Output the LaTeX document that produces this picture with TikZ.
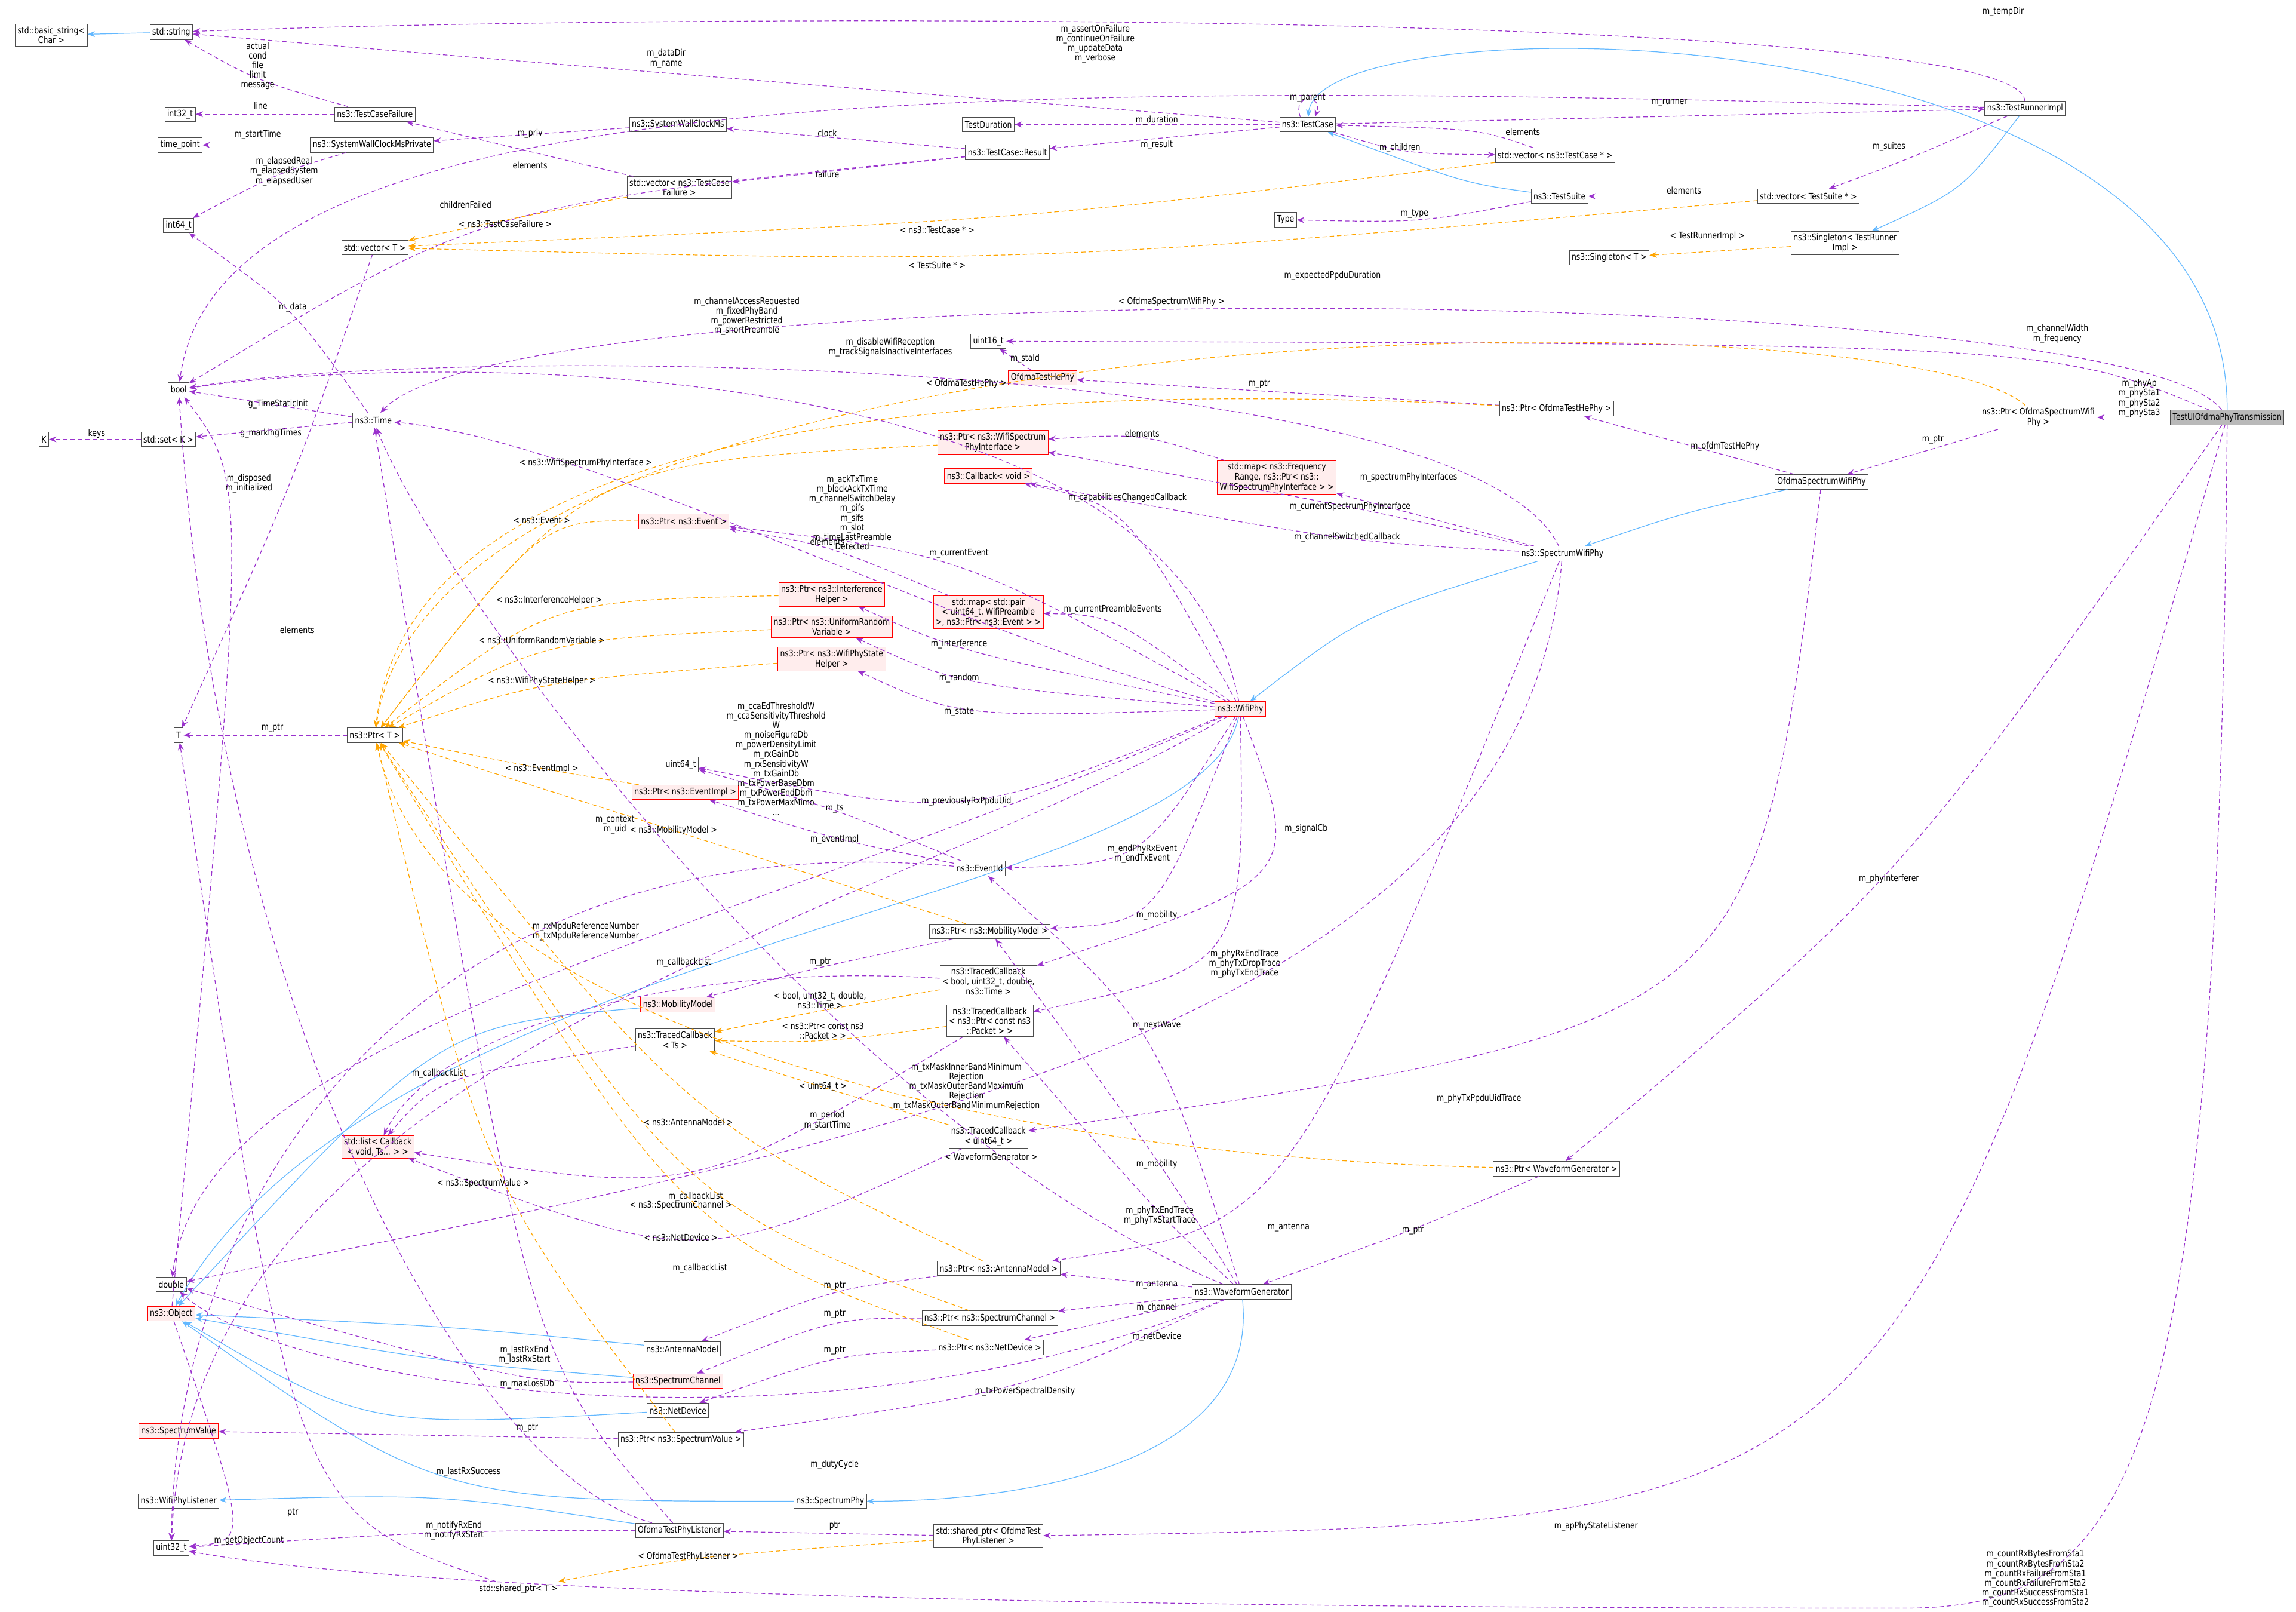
\documentclass[tikz,border=0pt]{standalone}
\usepackage{fontspec}
\setmainfont{DejaVu Sans}[FakeStretch=0.82]
\usetikzlibrary{arrows.meta}
\definecolor{usecol}{HTML}{9A32CD}
\definecolor{tmplcol}{HTML}{FFA500}
\definecolor{inhcol}{HTML}{63B8FF}
\tikzset{
  cls/.style={draw=gray!60!black, fill=white, font=\fontsize{6.2}{6.8}\selectfont, inner sep=1.6pt, minimum height=10pt, align=center},
  rcls/.style={cls, draw=red, fill=red!7},
  rootcls/.style={cls, fill=gray!55},
  usage/.style={draw=usecol, dash pattern=on 3pt off 2pt, line width=0.5pt, -{Stealth[length=5pt,width=4pt]}},
  tmpl/.style={draw=tmplcol, dash pattern=on 3pt off 2pt, line width=0.5pt, -{Stealth[length=5pt,width=4pt]}},
  inh/.style={draw=inhcol, line width=0.5pt, -{Stealth[length=5pt,width=4pt]}},
  lbl/.style={font=\fontsize{6.2}{6.6}\selectfont, align=center, inner sep=0.5pt}
}
\begin{document}
\begin{tikzpicture}[x=1pt, y=-1pt]
  \useasboundingbox (0,0) rectangle (1568,1100.6);

  % classes
  \node[cls] (bstr) at (35,24) {std::basic\_string<\\Char >};
  \node[cls] (str) at (117,22) {std::string};
  \node[cls] (i32) at (123,78) {int32\_t};
  \node[cls] (tcf) at (256,78) {ns3::TestCaseFailure};
  \node[cls] (tp) at (123,99) {time\_point};
  \node[cls] (swp) at (254,99) {ns3::SystemWallClockMsPrivate};
  \node[cls] (swc) at (463,85) {ns3::SystemWallClockMs};
  \node[cls] (tdur) at (675,85) {TestDuration};
  \node[cls] (res) at (688,104) {ns3::TestCase::Result};
  \node[cls] (tc) at (893,85) {ns3::TestCase};
  \node[cls] (vtc) at (1062,106) {std::vector< ns3::TestCase * >};
  \node[cls] (tri) at (1383,74) {ns3::TestRunnerImpl};
  \node[cls] (i64) at (122,154) {int64\_t};
  \node[cls] (vtcf) at (464,128) {std::vector< ns3::TestCase\\Failure >};
  \node[cls] (ts) at (1065,134) {ns3::TestSuite};
  \node[cls] (vts) at (1235,134) {std::vector< TestSuite * >};
  \node[cls] (typ) at (878,150) {Type};
  \node[cls] (vt) at (256,169) {std::vector< T >};
  \node[cls] (stri) at (1260,166) {ns3::Singleton< TestRunner\\Impl >};
  \node[cls] (st) at (1099,176) {ns3::Singleton< T >};
  \node[cls] (u16) at (675,233) {uint16\_t};
  \node[rcls] (hephy) at (712,258) {OfdmaTestHePhy};
  \node[cls] (bool) at (122,266) {bool};
  \node[cls] (time) at (255,287) {ns3::Time};
  \node[cls] (K) at (30,300) {K};
  \node[cls] (setk) at (115,300) {std::set< K >};
  \node[cls] (phephy) at (1063,279) {ns3::Ptr< OfdmaTestHePhy >};
  \node[cls] (posw) at (1392,285) {ns3::Ptr< OfdmaSpectrumWifi\\Phy >};
  \node[rootcls] (root) at (1521,285) {TestUlOfdmaPhyTransmission};
  \node[cls] (osw) at (1244,329) {OfdmaSpectrumWifiPhy};
  \node[rcls] (pwspi) at (678,302) {ns3::Ptr< ns3::WifiSpectrum\\PhyInterface >};
  \node[rcls] (mapfr) at (872,326) {std::map< ns3::Frequency\\Range, ns3::Ptr< ns3::\\WifiSpectrumPhyInterface > >};
  \node[rcls] (cbv) at (675,325) {ns3::Callback< void >};
  \node[rcls] (pev) at (467,356) {ns3::Ptr< ns3::Event >};
  \node[cls] (swf) at (1067,378) {ns3::SpectrumWifiPhy};
  \node[rcls] (pih) at (568,406) {ns3::Ptr< ns3::Interference\\Helper >};
  \node[rcls] (mappr) at (675,418) {std::map< std::pair\\< uint64\_t, WifiPreamble\\>, ns3::Ptr< ns3::Event > >};
  \node[rcls] (purv) at (568,428) {ns3::Ptr< ns3::UniformRandom\\Variable >};
  \node[rcls] (pwsh) at (568,450) {ns3::Ptr< ns3::WifiPhyState\\Helper >};
  \node[cls] (T) at (122,502) {T};
  \node[cls] (ptrt) at (256,502) {ns3::Ptr< T >};
  \node[rcls] (wphy) at (847,484) {ns3::WifiPhy};
  \node[cls] (u64) at (465,522) {uint64\_t};
  \node[rcls] (pei) at (468,541) {ns3::Ptr< ns3::EventImpl >};
  \node[cls] (eid) at (669,593) {ns3::EventId};
  \node[cls] (pmm) at (676,636) {ns3::Ptr< ns3::MobilityModel >};
  \node[cls] (tcb) at (675,670) {ns3::TracedCallback\\< bool, uint32\_t, double,\\ns3::Time >};
  \node[rcls] (mm) at (463,686) {ns3::MobilityModel};
  \node[cls] (tcts) at (461,710) {ns3::TracedCallback\\< Ts >};
  \node[cls] (tcp) at (676,697) {ns3::TracedCallback\\< ns3::Ptr< const ns3\\::Packet > >};
  \node[rcls] (lst) at (258,783) {std::list< Callback\\< void, Ts... > >};
  \node[cls] (tcu) at (675,776) {ns3::TracedCallback\\< uint64\_t >};
  \node[cls] (pwg) at (1063,798) {ns3::Ptr< WaveformGenerator >};
  \node[cls] (dbl) at (117,877) {double};
  \node[cls] (pam) at (682,866) {ns3::Ptr< ns3::AntennaModel >};
  \node[cls] (wg) at (848,882) {ns3::WaveformGenerator};
  \node[rcls] (obj) at (117,897) {ns3::Object};
  \node[cls] (am) at (466,921) {ns3::AntennaModel};
  \node[cls] (psc) at (676,900) {ns3::Ptr< ns3::SpectrumChannel >};
  \node[cls] (pnd) at (676,920) {ns3::Ptr< ns3::NetDevice >};
  \node[rcls] (sc) at (463,943) {ns3::SpectrumChannel};
  \node[cls] (nd) at (463,963) {ns3::NetDevice};
  \node[rcls] (sv) at (122,977) {ns3::SpectrumValue};
  \node[cls] (psv) at (465,983) {ns3::Ptr< ns3::SpectrumValue >};
  \node[cls] (sphy) at (567,1025) {ns3::SpectrumPhy};
  \node[cls] (wpl) at (122,1025) {ns3::WifiPhyListener};
  \node[cls] (otpl) at (464,1045) {OfdmaTestPhyListener};
  \node[cls] (sptpl) at (675,1049) {std::shared\_ptr< OfdmaTest\\PhyListener >};
  \node[cls] (u32) at (117,1057) {uint32\_t};
  \node[cls] (spt) at (354,1085) {std::shared\_ptr< T >};

  % inheritance
  \draw[inh] (str) -- (bstr);
  \draw[inh] (root) .. controls (1521,0) and (900,0) .. (tc);
  \draw[inh] (ts) .. controls (1000,125) .. (tc);
  \draw[inh] (tri) .. controls (1340,130) .. (stri);
  \draw[inh] (osw) .. controls (1150,350) .. (swf);
  \draw[inh] (swf) .. controls (930,420) .. (wphy);
  \draw[inh] (wphy) .. controls (820,620) and (260,640) .. (obj);
  \draw[inh] (wg) .. controls (860,1000) and (700,1025) .. (sphy);
  \draw[inh] (sphy) .. controls (300,1025) .. (obj);
  \draw[inh] (mm) .. controls (300,700) .. (obj);
  \draw[inh] (am) .. controls (300,905) .. (obj);
  \draw[inh] (sc) .. controls (300,930) .. (obj);
  \draw[inh] (nd) .. controls (250,975) .. (obj);
  \draw[inh] (otpl) .. controls (300,1020) .. (wpl);

  % members
  \draw[usage] (tri) .. controls (1380,8) and (500,8) .. (str);
  \node[lbl] at (1368,8) {m\_tempDir};
  \draw[usage] (tc) .. controls (455,50) .. (str);
  \node[lbl] at (455,40) {m\_dataDir\\m\_name};
  \draw[usage] (tri) .. controls (700,55) and (150,50) .. (bool);
  \node[lbl] at (748,30) {m\_assertOnFailure\\m\_continueOnFailure\\m\_updateData\\m\_verbose};
  \draw[usage] (tcf) .. controls (175,55) .. (str);
  \node[lbl] at (176,45) {actual\\cond\\file\\limit\\message};
  \draw[usage] (tcf) -- (i32);
  \node[lbl] at (178,72) {line};
  \draw[usage] (swp) -- (tp);
  \node[lbl] at (176,92) {m\_startTime};
  \draw[usage] (swp) .. controls (190,118) .. (i64);
  \node[lbl] at (194,117) {m\_elapsedReal\\m\_elapsedSystem\\m\_elapsedUser};
  \draw[usage] (swc) -- (swp);
  \node[lbl] at (362,91) {m\_priv};
  \draw[usage] (res) -- (swc);
  \node[lbl] at (565,91) {clock};
  \draw[usage] (res) -- (vtcf);
  \node[lbl] at (565,119) {failure};
  \draw[usage] (res) .. controls (330,140) .. (bool);
  \node[lbl] at (318,140) {childrenFailed};
  \draw[usage] (vtcf) -- (tcf);
  \node[lbl] at (362,113) {elements};
  \draw[usage] (tc) -- (tdur);
  \node[lbl] at (790,82) {m\_duration};
  \draw[usage] (tc) -- (res);
  \node[lbl] at (790,99) {m\_result};
  \draw[usage] ([xshift=-5pt]tc.north) .. controls +(-6,-16) and +(6,-16) .. ([xshift=5pt]tc.north);
  \node[lbl] at (893,67) {m\_parent};
  \draw[usage] (tc) -- (tri);
  \node[lbl] at (1140,70) {m\_runner};
  \draw[usage] (vtc) .. controls (1010,88) .. (tc);
  \node[lbl] at (1040,90) {elements};
  \draw[usage] (tc) .. controls (960,105) .. (vtc);
  \node[lbl] at (956,101) {m\_children};
  \draw[usage] (ts) .. controls (970,152) .. (typ);
  \node[lbl] at (966,146) {m\_type};
  \draw[usage] (vts) -- (ts);
  \node[lbl] at (1150,130) {elements};
  \draw[usage] (tri) .. controls (1300,110) .. (vts);
  \node[lbl] at (1290,100) {m\_suites};
  \draw[usage] (vt) .. controls (200,330) .. (T);
  \node[lbl] at (203,430) {elements};

  % templates of the test framework
  \draw[tmpl] (vtcf) .. controls (345,150) .. (vt);
  \node[lbl] at (345,153) {< ns3::TestCaseFailure >};
  \draw[tmpl] (vtc) .. controls (700,150) .. (vt);
  \node[lbl] at (640,157) {< ns3::TestCase * >};
  \draw[tmpl] (vts) .. controls (700,180) .. (vt);
  \node[lbl] at (640,181) {< TestSuite * >};
  \draw[tmpl] (stri) -- (st);
  \node[lbl] at (1166,161) {< TestRunnerImpl >};

  % test class
  \draw[usage] (root) .. controls (1450,190) and (350,185) .. (time);
  \node[lbl] at (910,188) {m\_expectedPpduDuration};
  \draw[tmpl] (posw) .. controls (1300,200) and (300,200) .. (ptrt);
  \node[lbl] at (800,206) {< OfdmaSpectrumWifiPhy >};
  \draw[usage] (root) .. controls (1400,235) .. (u16);
  \node[lbl] at (1405,228) {m\_channelWidth\\m\_frequency};
  \draw[usage] (hephy) -- (u16);
  \node[lbl] at (700,245) {m\_staId};
  \draw[usage] (phephy) -- (hephy);
  \node[lbl] at (860,262) {m\_ptr};
  \draw[tmpl] (phephy) .. controls (660,258) and (280,290) .. (ptrt);
  \node[lbl] at (660,262) {< OfdmaTestHePhy >};
  \draw[usage] (root) -- (posw);
  \node[lbl] at (1461,272) {m\_phyAp\\m\_phySta1\\m\_phySta2\\m\_phySta3};
  \draw[usage] (posw) -- (osw);
  \node[lbl] at (1320,300) {m\_ptr};
  \draw[usage] (osw) -- (phephy);
  \node[lbl] at (1178,305) {m\_ofdmTestHePhy};
  \draw[usage] (root) .. controls (1300,600) .. (pwg);
  \node[lbl] at (1290,600) {m\_phyInterferer};
  \draw[usage] (root) .. controls (1300,1040) .. (sptpl);
  \node[lbl] at (1090,1042) {m\_apPhyStateListener};
  \draw[usage] (root) .. controls (1515,1000) and (1460,1098) .. (1300,1098) .. controls (800,1098) and (300,1090) .. (u32);
  \node[lbl] at (1390,1078) {m\_countRxBytesFromSta1\\m\_countRxBytesFromSta2\\m\_countRxFailureFromSta1\\m\_countRxFailureFromSta2\\m\_countRxSuccessFromSta1\\m\_countRxSuccessFromSta2};

  % ns3::Time
  \draw[usage] (time) -- (bool);
  \node[lbl] at (190,276) {g\_TimeStaticInit};
  \draw[usage] (time) -- (setk);
  \node[lbl] at (185,296) {g\_markingTimes};
  \draw[usage] (time) .. controls (200,210) .. (i64);
  \node[lbl] at (200,210) {m\_data};
  \draw[usage] (setk) -- (K);
  \node[lbl] at (66,296) {keys};

  % wifi phy
  \draw[usage] (wphy) .. controls (650,430) and (400,300) .. (time);
  \node[lbl] at (582,350) {m\_ackTxTime\\m\_blockAckTxTime\\m\_channelSwitchDelay\\m\_pifs\\m\_sifs\\m\_slot\\m\_timeLastPreamble\\Detected};
  \draw[usage] (wphy) .. controls (800,240) and (300,240) .. (bool);
  \node[lbl] at (510,216) {m\_channelAccessRequested\\m\_fixedPhyBand\\m\_powerRestricted\\m\_shortPreamble};
  \draw[usage] (swf) .. controls (1000,240) and (300,235) .. (bool);
  \node[lbl] at (608,237) {m\_disableWifiReception\\m\_trackSignalsInactiveInterfaces};
  \draw[tmpl] (pwspi) .. controls (400,316) .. (ptrt);
  \node[lbl] at (400,316) {< ns3::WifiSpectrumPhyInterface >};
  \draw[usage] (mapfr) .. controls (780,296) .. (pwspi);
  \node[lbl] at (780,296) {elements};
  \draw[usage] (swf) -- (mapfr);
  \node[lbl] at (962,326) {m\_spectrumPhyInterfaces};
  \draw[usage] (swf) .. controls (920,345) .. (pwspi);
  \node[lbl] at (922,346) {m\_currentSpectrumPhyInterface};
  \draw[usage] (wphy) .. controls (770,345) .. (cbv);
  \node[lbl] at (770,340) {m\_capabilitiesChangedCallback};
  \draw[usage] (swf) .. controls (920,370) .. (cbv);
  \node[lbl] at (920,367) {m\_channelSwitchedCallback};
  \draw[usage] (wphy) .. controls (655,378) .. (pev);
  \node[lbl] at (655,378) {m\_currentEvent};
  \draw[usage] (mappr) .. controls (565,372) .. (pev);
  \node[lbl] at (565,370) {elements};
  \draw[usage] (wphy) .. controls (760,420) .. (mappr);
  \node[lbl] at (760,416) {m\_currentPreambleEvents};
  \draw[usage] (wphy) .. controls (655,445) .. (pih);
  \node[lbl] at (655,440) {m\_interference};
  \draw[usage] (wphy) .. controls (655,468) .. (purv);
  \node[lbl] at (655,463) {m\_random};
  \draw[usage] (wphy) .. controls (655,490) .. (pwsh);
  \node[lbl] at (655,486) {m\_state};
  \draw[tmpl] (pev) .. controls (370,355) .. (ptrt);
  \node[lbl] at (370,355) {< ns3::Event >};
  \draw[tmpl] (pih) .. controls (375,410) .. (ptrt);
  \node[lbl] at (375,410) {< ns3::InterferenceHelper >};
  \draw[tmpl] (purv) .. controls (370,437) .. (ptrt);
  \node[lbl] at (370,437) {< ns3::UniformRandomVariable >};
  \draw[tmpl] (pwsh) .. controls (370,465) .. (ptrt);
  \node[lbl] at (370,465) {< ns3::WifiPhyStateHelper >};
  \draw[usage] (ptrt) -- (T);
  \node[lbl] at (186,497) {m\_ptr};
  \draw[usage] (wphy) .. controls (500,640) and (140,700) .. (dbl);
  \node[lbl] at (530,518) {m\_ccaEdThresholdW\\m\_ccaSensitivityThreshold\\W\\m\_noiseFigureDb\\m\_powerDensityLimit\\m\_rxGainDb\\m\_rxSensitivityW\\m\_txGainDb\\m\_txPowerBaseDbm\\m\_txPowerEndDbm\\m\_txPowerMaxMimo\\...};
  \draw[usage] (wphy) .. controls (660,560) .. (u64);
  \node[lbl] at (660,547) {m\_previouslyRxPpduUid};
  \draw[usage] (wphy) .. controls (780,590) .. (eid);
  \node[lbl] at (780,583) {m\_endPhyRxEvent\\m\_endTxEvent};
  \draw[usage] (wphy) .. controls (790,630) .. (pmm);
  \node[lbl] at (790,625) {m\_mobility};
  \draw[usage] (wphy) .. controls (600,630) and (130,720) .. (u32);
  \node[lbl] at (400,636) {m\_rxMpduReferenceNumber\\m\_txMpduReferenceNumber};
  \draw[usage] (wphy) .. controls (890,600) .. (tcb);
  \node[lbl] at (892,566) {m\_signalCb};
  \draw[usage] (wphy) .. controls (850,660) .. (tcp);
  \node[lbl] at (850,658) {m\_phyRxEndTrace\\m\_phyTxDropTrace\\m\_phyTxEndTrace};
  \draw[usage] (swf) .. controls (1040,700) and (600,780) .. (dbl);
  \node[lbl] at (660,742) {m\_txMaskInnerBandMinimum\\Rejection\\m\_txMaskOuterBandMaximum\\Rejection\\m\_txMaskOuterBandMinimumRejection};
  \draw[usage] (osw) .. controls (1200,700) .. (tcu);
  \node[lbl] at (1010,750) {m\_phyTxPpduUidTrace};

  % events
  \draw[usage] (eid) .. controls (570,573) .. (pei);
  \node[lbl] at (570,573) {m\_eventImpl};
  \draw[tmpl] (pei) .. controls (370,525) .. (ptrt);
  \node[lbl] at (370,525) {< ns3::EventImpl >};
  \draw[usage] (eid) .. controls (570,552) .. (u64);
  \node[lbl] at (570,552) {m\_ts};
  \draw[usage] (eid) .. controls (300,560) and (120,800) .. (u32);
  \node[lbl] at (420,563) {m\_context\\m\_uid};

  % callbacks and mobility
  \draw[usage] (pmm) .. controls (560,660) .. (mm);
  \node[lbl] at (560,657) {m\_ptr};
  \draw[tmpl] (pmm) .. controls (460,567) .. (ptrt);
  \node[lbl] at (460,567) {< ns3::MobilityModel >};
  \draw[tmpl] (tcb) .. controls (560,690) .. (tcts);
  \node[lbl] at (560,683) {< bool, uint32\_t, double,\\ns3::Time >};
  \draw[tmpl] (tcp) .. controls (560,712) .. (tcts);
  \node[lbl] at (562,704) {< ns3::Ptr< const ns3\\::Packet > >};
  \draw[tmpl] (tcu) .. controls (560,742) .. (tcts);
  \node[lbl] at (562,742) {< uint64\_t >};
  \draw[usage] (tcts) .. controls (300,735) .. (lst);
  \node[lbl] at (300,733) {m\_callbackList};
  \draw[usage] (tcb) .. controls (467,657) and (300,700) .. (lst);
  \node[lbl] at (467,657) {m\_callbackList};
  \draw[usage] (tcp) .. controls (475,817) .. (lst);
  \node[lbl] at (475,817) {m\_callbackList};
  \draw[usage] (tcu) .. controls (478,866) .. (lst);
  \node[lbl] at (478,866) {m\_callbackList};

  % waveform generator
  \draw[usage] (wg) .. controls (565,765) and (300,400) .. (time);
  \node[lbl] at (565,765) {m\_period\\m\_startTime};
  \draw[tmpl] (pwg) .. controls (677,790) and (300,700) .. (ptrt);
  \node[lbl] at (677,790) {< WaveformGenerator >};
  \draw[usage] (pwg) .. controls (965,840) .. (wg);
  \node[lbl] at (965,840) {m\_ptr};
  \draw[usage] (wg) .. controls (790,790) .. (pmm);
  \node[lbl] at (790,795) {m\_mobility};
  \draw[usage] (wg) .. controls (792,830) .. (tcp);
  \node[lbl] at (792,830) {m\_phyTxEndTrace\\m\_phyTxStartTrace};
  \draw[usage] (wg) .. controls (790,700) .. (eid);
  \node[lbl] at (790,700) {m\_nextWave};
  \draw[usage] (swf) .. controls (880,838) .. (pam);
  \node[lbl] at (880,838) {m\_antenna};
  \draw[usage] (wg) -- (pam);
  \node[lbl] at (790,877) {m\_antenna};
  \draw[usage] (pam) .. controls (570,880) .. (am);
  \node[lbl] at (570,878) {m\_ptr};
  \draw[tmpl] (pam) .. controls (470,766) .. (ptrt);
  \node[lbl] at (470,766) {< ns3::AntennaModel >};
  \draw[usage] (wg) -- (psc);
  \node[lbl] at (790,893) {m\_channel};
  \draw[usage] (psc) .. controls (570,900) .. (sc);
  \node[lbl] at (570,897) {m\_ptr};
  \draw[tmpl] (psc) .. controls (465,823) .. (ptrt);
  \node[lbl] at (465,823) {< ns3::SpectrumChannel >};
  \draw[usage] (wg) -- (pnd);
  \node[lbl] at (790,913) {m\_netDevice};
  \draw[usage] (pnd) .. controls (570,925) .. (nd);
  \node[lbl] at (570,922) {m\_ptr};
  \draw[tmpl] (pnd) .. controls (465,845) .. (ptrt);
  \node[lbl] at (465,845) {< ns3::NetDevice >};
  \draw[usage] (wg) .. controls (700,950) .. (psv);
  \node[lbl] at (700,950) {m\_txPowerSpectralDensity};
  \draw[usage] (psv) -- (sv);
  \node[lbl] at (360,975) {m\_ptr};
  \draw[tmpl] (psv) .. controls (330,808) .. (ptrt);
  \node[lbl] at (330,808) {< ns3::SpectrumValue >};
  \draw[usage] (wg) .. controls (570,1000) and (200,950) .. (dbl);
  \node[lbl] at (570,1000) {m\_dutyCycle};

  % object and listener
  \draw[usage] (obj) .. controls (170,330) .. (bool);
  \node[lbl] at (170,330) {m\_disposed\\m\_initialized};
  \draw[usage] (obj) .. controls (170,1052) .. (u32);
  \node[lbl] at (170,1052) {m\_getObjectCount};
  \draw[usage] (sc) .. controls (360,945) .. (dbl);
  \node[lbl] at (360,945) {m\_maxLossDb};
  \draw[usage] (otpl) .. controls (358,925) .. (time);
  \node[lbl] at (358,925) {m\_lastRxEnd\\m\_lastRxStart};
  \draw[usage] (otpl) .. controls (320,1005) and (150,700) .. (bool);
  \node[lbl] at (320,1005) {m\_lastRxSuccess};
  \draw[usage] (otpl) .. controls (310,1045) .. (u32);
  \node[lbl] at (310,1045) {m\_notifyRxEnd\\m\_notifyRxStart};
  \draw[usage] (sptpl) -- (otpl);
  \node[lbl] at (570,1042) {ptr};
  \draw[tmpl] (sptpl) .. controls (470,1063) .. (spt);
  \node[lbl] at (470,1063) {< OfdmaTestPhyListener >};
  \draw[usage] (spt) .. controls (200,1033) .. (T);
  \node[lbl] at (200,1033) {ptr};
\end{tikzpicture}
\end{document}
